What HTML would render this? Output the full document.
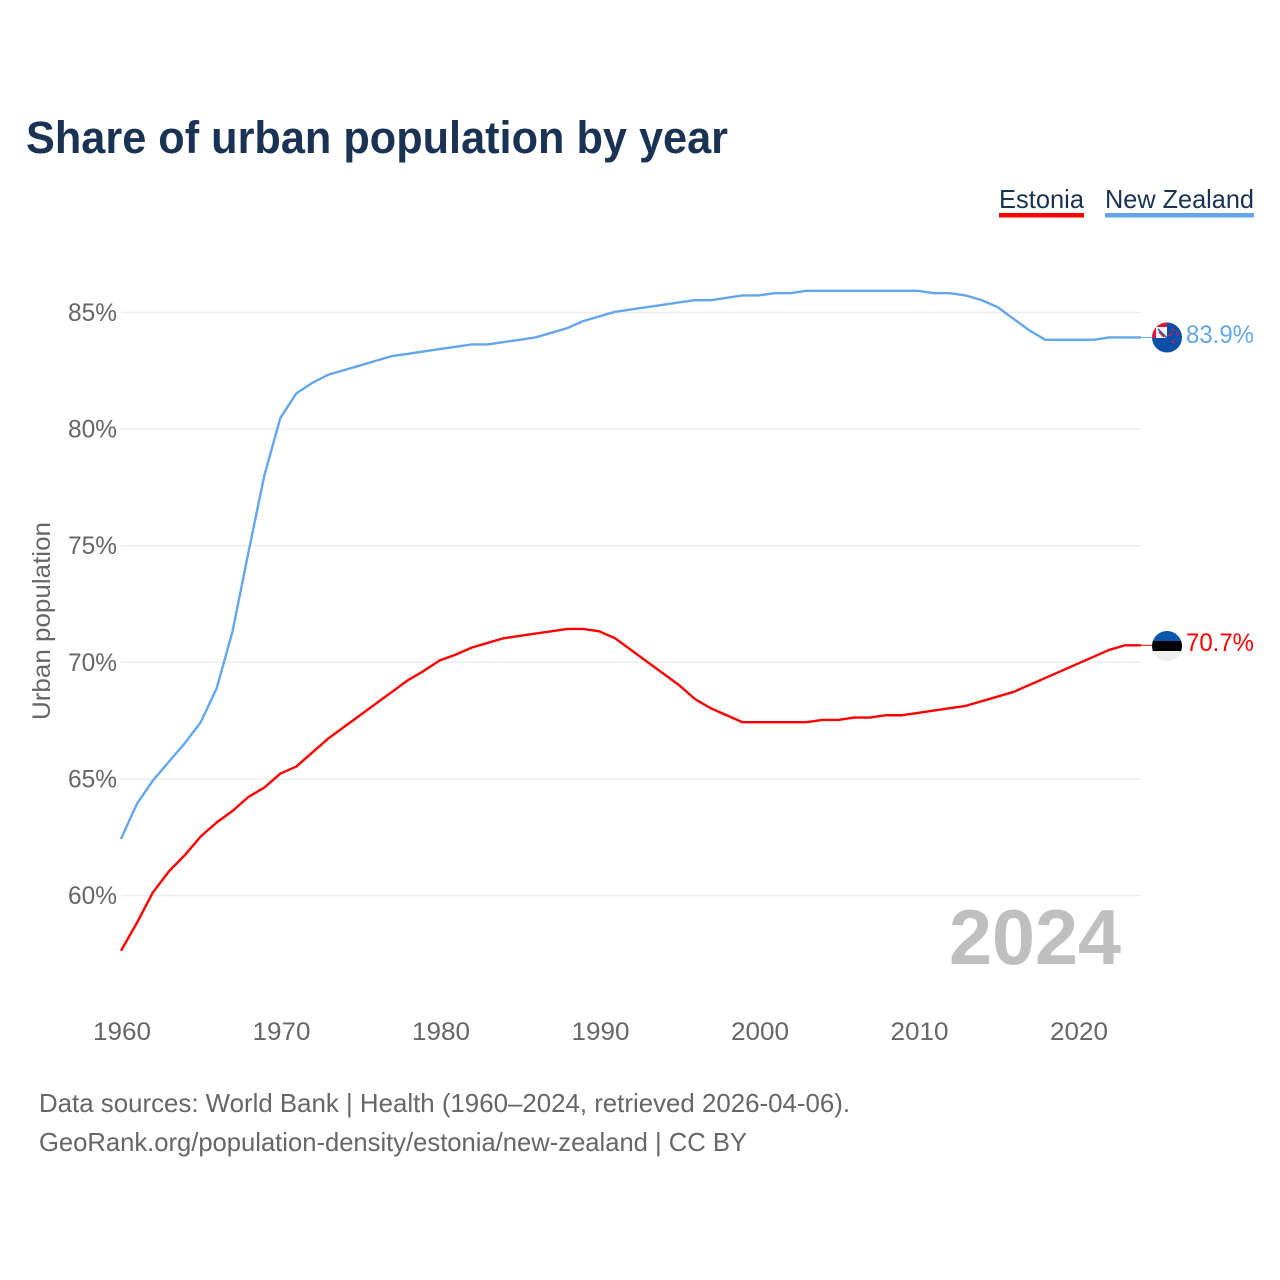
<!DOCTYPE html>
<html lang="en">
<head>
<meta charset="utf-8">
<title>Share of urban population by year</title>
<style>
html,body{margin:0;padding:0;background:#fff;}
svg{display:block;font-family:"Liberation Sans",sans-serif;}
</style>
</head>
<body>
<svg id="chart" xmlns="http://www.w3.org/2000/svg" width="1280" height="1280" viewBox="0 0 1280 1280">
  <defs>
    <clipPath id="nz-clip"><circle cx="1167" cy="337.5" r="15"></circle></clipPath>
    <clipPath id="ee-clip"><circle cx="1167" cy="646" r="15"></circle></clipPath>
  </defs>
  <rect x="0" y="0" width="1280" height="1280" fill="#fff"></rect>
  <text x="26" y="153" font-size="45" font-weight="700" fill="#1a3354" textLength="702" lengthAdjust="spacingAndGlyphs">Share of urban population by year</text>

  <g>
    <g>
      <text x="999" y="208" font-size="26" fill="#1a3354" textLength="85" lengthAdjust="spacingAndGlyphs">Estonia</text>
      <rect x="999" y="213" width="85" height="4.5" fill="#ff0000"></rect>
    </g>
    <g>
      <text x="1105" y="208" font-size="26" fill="#1a3354" textLength="149" lengthAdjust="spacingAndGlyphs">New Zealand</text>
      <rect x="1105" y="213" width="149" height="4.5" fill="#63a6ec"></rect>
    </g>
  </g>

  <g id="grid"></g>
  <g id="y-axis"></g>
  <g id="x-axis"></g>
  <text transform="translate(50,621) rotate(-90)" text-anchor="middle" font-size="25" fill="#666" textLength="198" lengthAdjust="spacingAndGlyphs">Urban population</text>

  <text x="949" y="964" font-size="78" font-weight="700" fill="#bfbfbf" textLength="172" lengthAdjust="spacingAndGlyphs">2024</text>

  <g id="series" transform="translate(0,-0.7)"></g>

  <g clip-path="url(#nz-clip)">
    <rect x="1152" y="322" width="30" height="31" fill="#0b4fa8"></rect>
    <rect x="1152" y="322" width="15" height="16" fill="#f4f4f6"></rect>
    <path d="M1152 322h15v5h-11v11h-4z" fill="#d8173c"></path>
    <path d="M1158 329l9 9" stroke="#2a4f95" stroke-width="1.5" fill="none"></path>
    <path d="M1159 332l5 5" stroke="#d8173c" stroke-width="1.5" fill="none"></path>
    <circle cx="1173.3" cy="330" r="1.3" fill="#d8173c"></circle>
    <circle cx="1170" cy="334.7" r="1.3" fill="#d8173c"></circle>
    <circle cx="1177" cy="334" r="1.3" fill="#d8173c"></circle>
    <circle cx="1173.3" cy="342" r="1.3" fill="#d8173c"></circle>
  </g>
  <g clip-path="url(#ee-clip)">
    <rect x="1152" y="631" width="30" height="10" fill="#0b57b0"></rect>
    <rect x="1152" y="641" width="30" height="10" fill="#000"></rect>
    <rect x="1152" y="651" width="30" height="10" fill="#eeeeee"></rect>
  </g>

  <text x="1186" y="343" font-size="25" fill="#63a6ec" textLength="68" lengthAdjust="spacingAndGlyphs">83.9%</text>
  <text x="1186" y="651" font-size="25" fill="#ff0000" textLength="68" lengthAdjust="spacingAndGlyphs">70.7%</text>

  <g>
    <text x="39" y="1112" font-size="26" fill="#666" textLength="811" lengthAdjust="spacingAndGlyphs">Data sources: World Bank | Health (1960–2024, retrieved 2026-04-06).</text>
    <text x="39" y="1151" font-size="26" fill="#666" textLength="708" lengthAdjust="spacingAndGlyphs">GeoRank.org/population-density/estonia/new-zealand | CC BY</text>
  </g>
</svg>
<script>
const startYear = 1960;
const yTicks = [60, 65, 70, 75, 80, 85];
const xTicks = [1960, 1970, 1980, 1990, 2000, 2010, 2020];
const estoniaValues = [57.6,58.8,60.1,61.0,61.7,62.5,63.1,63.6,64.2,64.6,65.2,65.5,66.1,66.7,67.2,67.7,68.2,68.7,69.2,69.6,70.05,70.3,70.6,70.8,71.0,71.1,71.2,71.3,71.4,71.4,71.3,71.0,70.5,70.0,69.5,69.0,68.4,68.0,67.7,67.4,67.4,67.4,67.4,67.4,67.5,67.5,67.6,67.6,67.7,67.7,67.8,67.9,68.0,68.1,68.3,68.5,68.7,69.0,69.3,69.6,69.9,70.2,70.5,70.7,70.7];
const newZealandValues = [62.4,63.9,64.9,65.7,66.5,67.4,68.85,71.3,74.7,78.0,80.45,81.5,81.95,82.3,82.5,82.7,82.9,83.1,83.2,83.3,83.4,83.5,83.6,83.6,83.7,83.8,83.9,84.1,84.3,84.6,84.8,85.0,85.1,85.2,85.3,85.4,85.5,85.5,85.6,85.7,85.7,85.8,85.8,85.9,85.9,85.9,85.9,85.9,85.9,85.9,85.9,85.8,85.8,85.7,85.5,85.2,84.7,84.2,83.8,83.8,83.8,83.8,83.9,83.9,83.9];

const NS = 'http://www.w3.org/2000/svg';
function xScale(year) { return 121 + (year - 1960) * 15.9375; }
function yScale(value) { return 895.5 - (value - 60) * 23.32; }
function xLabelPos(year) { return xScale(year) + 1 + (year - 1960) * 0.0125; }
function make(tag, attrs, text) {
  const el = document.createElementNS(NS, tag);
  for (const k in attrs) el.setAttribute(k, attrs[k]);
  if (text !== undefined) el.textContent = text;
  return el;
}
const grid = document.getElementById('grid');
const yAxis = document.getElementById('y-axis');
const xAxis = document.getElementById('x-axis');
const series = document.getElementById('series');

yTicks.forEach(function (t) {
  const line = make('line', {x1: 121, x2: 1141, y1: yScale(t), y2: yScale(t), stroke: '#eeeeee', 'stroke-width': 1.5});
  
  
  grid.appendChild(line);
  const label = make('text', {x: 117, y: yScale(t) + 8.5, 'text-anchor': 'end', 'font-size': 25, fill: '#666', textLength: 49, lengthAdjust: 'spacingAndGlyphs'}, t + '%');
  
  
  yAxis.appendChild(label);
});

xTicks.forEach(function (t) {
  const label = make('text', {x: xLabelPos(t), y: 1040, 'text-anchor': 'middle', 'font-size': 25, fill: '#666', textLength: 58, lengthAdjust: 'spacingAndGlyphs'}, String(t));
  
  
  xAxis.appendChild(label);
});

function drawSeries(values, color, name) {
  const pts = values.map(function (v, i) {
    return xScale(startYear + i).toFixed(2) + ',' + yScale(v).toFixed(2);
  }).join(' ');
  const line = make('polyline', {points: pts, fill: 'none', stroke: color, 'stroke-width': 2.4, 'stroke-linejoin': 'round'});
  
  
  series.appendChild(line);
  const lastValue = values[values.length - 1];
  const lastYear = startYear + values.length - 1;
  const leader = make('line', {x1: xScale(lastYear), x2: 1153, y1: yScale(lastValue), y2: yScale(lastValue), stroke: color, 'stroke-width': 1});
  
  
  series.appendChild(leader);
}
drawSeries(newZealandValues, '#63a6ec', 'line-new-zealand');
drawSeries(estoniaValues, '#ff0000', 'line-estonia');
</script>
</body>
</html>
